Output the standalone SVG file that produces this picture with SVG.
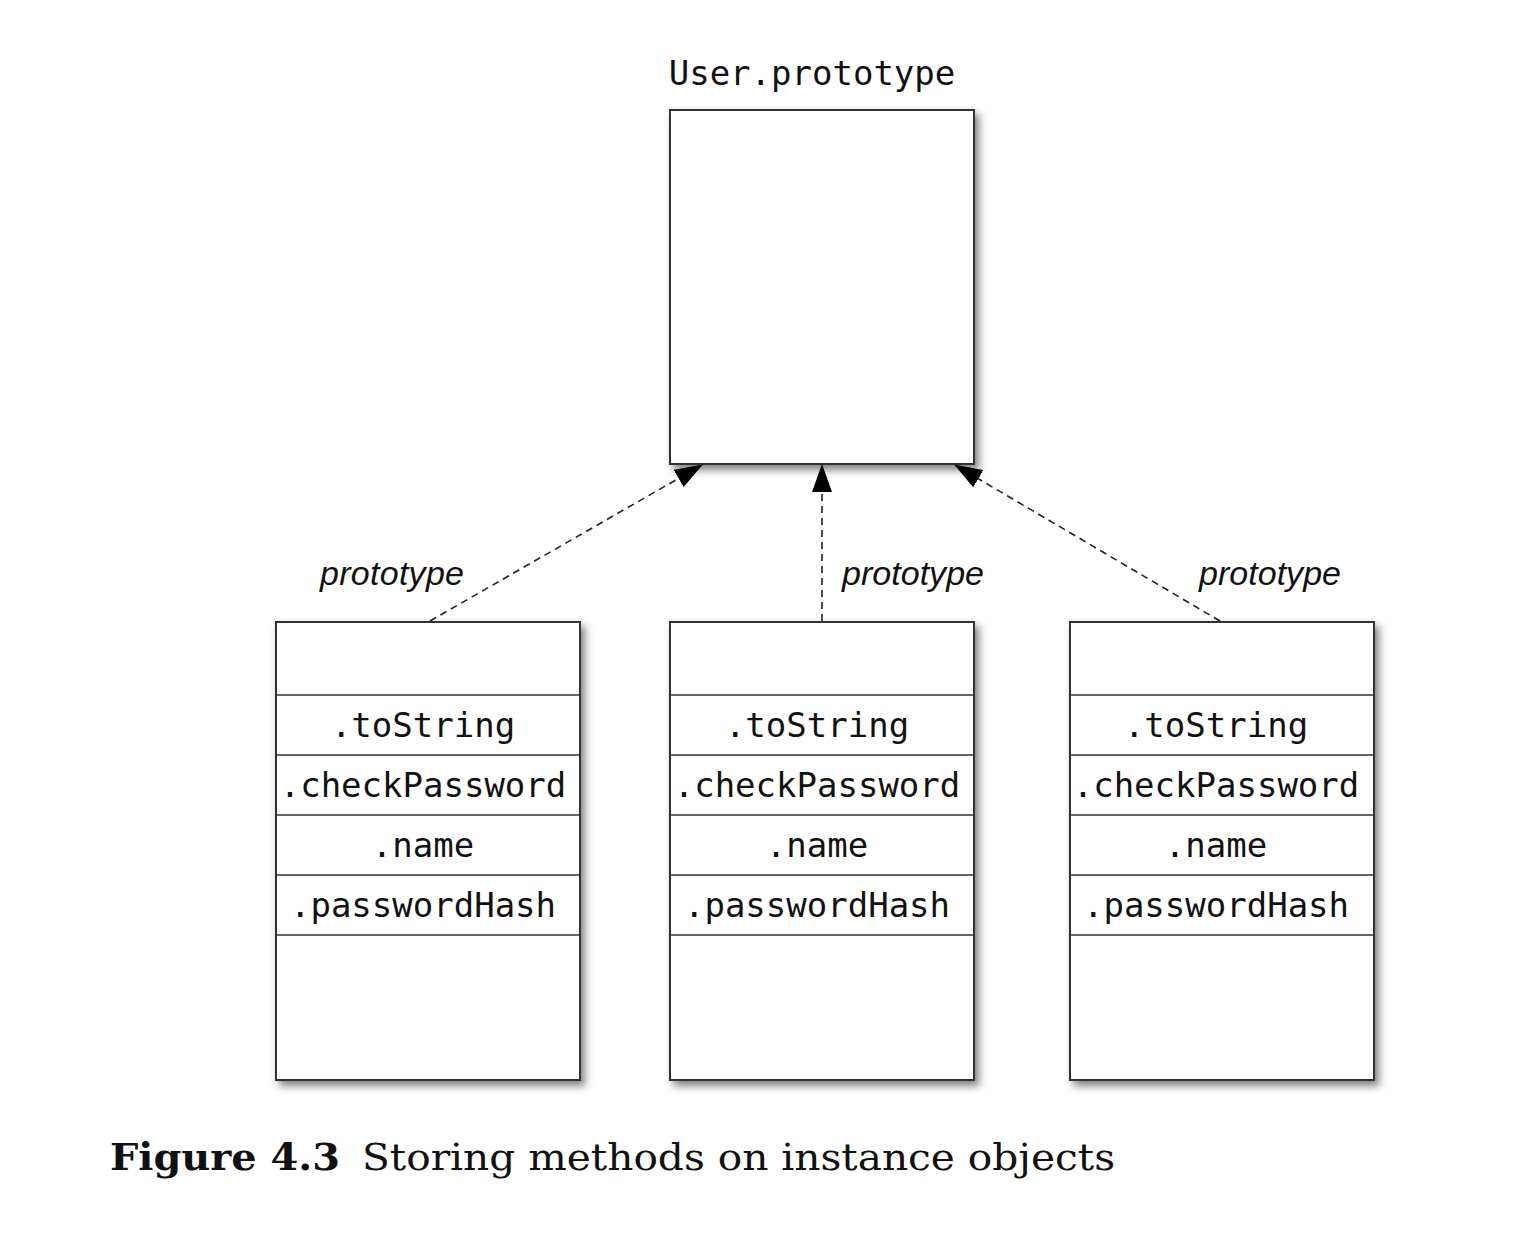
<svg xmlns="http://www.w3.org/2000/svg" width="1534" height="1244" viewBox="0 0 1534 1244">
<style>
.box{fill:#fff;stroke:#333;stroke-width:2}
.div{stroke:#333;stroke-width:1.6}
.mono{font-family:"DejaVu Sans Mono",monospace;font-size:34px;fill:#111;text-anchor:middle}
.lbl{font-family:"Liberation Sans",Arial,sans-serif;font-style:italic;font-size:34px;fill:#111}
.conn{stroke:#222;stroke-width:1.6;stroke-dasharray:7 5;fill:none}
</style>
<defs>
<filter id="sh" x="-10%" y="-10%" width="130%" height="130%">
<feDropShadow dx="4" dy="5" stdDeviation="4.5" flood-color="#000" flood-opacity="0.5"/>
</filter>
<marker id="ah" viewBox="0 0 28 20" refX="27" refY="10" markerWidth="28" markerHeight="20" markerUnits="userSpaceOnUse" orient="auto">
<path d="M0,0 L28,10 L0,20 z" fill="#000"/>
</marker>
</defs>
<g id="user-prototype">
<text x="812" y="85" class="mono">User.prototype</text>
<rect class="box" x="670" y="110" width="304" height="354" filter="url(#sh)"/>
</g>
<g id="instance-1">
<rect class="box" x="276" y="622" width="304" height="458" filter="url(#sh)"/>
<line class="div" x1="276" y1="695" x2="580" y2="695"/>
<line class="div" x1="276" y1="755" x2="580" y2="755"/>
<line class="div" x1="276" y1="815" x2="580" y2="815"/>
<line class="div" x1="276" y1="875" x2="580" y2="875"/>
<line class="div" x1="276" y1="935" x2="580" y2="935"/>
<text class="mono" x="423" y="737">.toString</text>
<text class="mono" x="423" y="797">.checkPassword</text>
<text class="mono" x="423" y="857">.name</text>
<text class="mono" x="423" y="917">.passwordHash</text>
</g>
<g id="instance-2">
<rect class="box" x="670" y="622" width="304" height="458" filter="url(#sh)"/>
<line class="div" x1="670" y1="695" x2="974" y2="695"/>
<line class="div" x1="670" y1="755" x2="974" y2="755"/>
<line class="div" x1="670" y1="815" x2="974" y2="815"/>
<line class="div" x1="670" y1="875" x2="974" y2="875"/>
<line class="div" x1="670" y1="935" x2="974" y2="935"/>
<text class="mono" x="817" y="737">.toString</text>
<text class="mono" x="817" y="797">.checkPassword</text>
<text class="mono" x="817" y="857">.name</text>
<text class="mono" x="817" y="917">.passwordHash</text>
</g>
<g id="instance-3">
<rect class="box" x="1070" y="622" width="304" height="458" filter="url(#sh)"/>
<line class="div" x1="1070" y1="695" x2="1374" y2="695"/>
<line class="div" x1="1070" y1="755" x2="1374" y2="755"/>
<line class="div" x1="1070" y1="815" x2="1374" y2="815"/>
<line class="div" x1="1070" y1="875" x2="1374" y2="875"/>
<line class="div" x1="1070" y1="935" x2="1374" y2="935"/>
<text class="mono" x="1216" y="737">.toString</text>
<text class="mono" x="1216" y="797">.checkPassword</text>
<text class="mono" x="1216" y="857">.name</text>
<text class="mono" x="1216" y="917">.passwordHash</text>
</g>
<g id="connectors">
<line class="conn" x1="430" y1="621" x2="702" y2="465" marker-end="url(#ah)"/>
<line class="conn" x1="822" y1="621" x2="822" y2="465" marker-end="url(#ah)"/>
<line class="conn" x1="1220" y1="621" x2="955" y2="465" marker-end="url(#ah)"/>
<text class="lbl" x="320" y="585" textLength="144">prototype</text>
<text class="lbl" x="842" y="585" textLength="142">prototype</text>
<text class="lbl" x="1199" y="585" textLength="142">prototype</text>
</g>
<g id="caption">
<text x="110" y="1170" font-family="'DejaVu Serif','Liberation Serif',serif" font-weight="bold" font-size="38" fill="#111" textLength="230" lengthAdjust="spacingAndGlyphs">Figure 4.3</text>
<text x="362" y="1170" font-family="'DejaVu Serif','Liberation Serif',serif" font-size="38" fill="#111" textLength="753" lengthAdjust="spacingAndGlyphs">Storing methods on instance objects</text>
</g>
</svg>
